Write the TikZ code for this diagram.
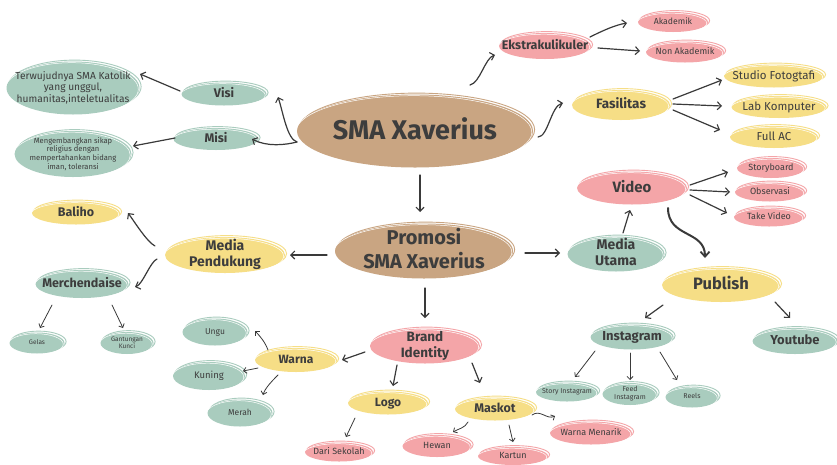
\documentclass[tikz,border=0pt]{standalone}
\usepackage{fontspec}
\setmainfont{Fira Sans}
\usetikzlibrary{shapes.geometric,arrows.meta}
\definecolor{gr}{HTML}{A9CCBE}
\definecolor{pk}{HTML}{F4A5A8}
\definecolor{ye}{HTML}{F6DE86}
\definecolor{tn}{HTML}{C9A582}
\definecolor{txt}{HTML}{3D3D3D}
\definecolor{ln}{HTML}{3A3A3A}
\newcommand\bubtext[1]{\smash{\makebox[0pt]{\raisebox{-0.3em}{\begin{tabular}{@{}c@{}}#1\end{tabular}}}}}
\tikzset{
  bub/.style={ellipse, inner sep=0pt, text=txt, fill=#1,
    postaction={draw=#1, line width=0.9pt, transform canvas={shift={(1.6pt,1.4pt)}}},
    postaction={draw=white, line width=0.5pt, transform canvas={shift={(-1.2pt,-1.2pt)}}}},
  sz/.style 2 args={minimum width=#1pt, minimum height=#2pt},
  f/.style={font=\fontsize{#1}{\fpeval{#1*1.14}}\selectfont},
  fb/.style={font=\bfseries\fontsize{#1}{\fpeval{#1*1.16}}\selectfont},
  arr/.style={draw=ln, line width=1.2pt, line cap=round, -{Straight Barb[length=4pt,width=8pt,line width=1.1pt]}},
  sarr/.style={draw=ln, line width=0.8pt, line cap=round, -{Straight Barb[length=3pt,width=6pt,line width=0.8pt]}},
  tarr/.style={draw=ln, line width=2pt, line cap=round, -{Straight Barb[length=5pt,width=9pt,line width=1.8pt]}},
}
\begin{document}
\begin{tikzpicture}[x=1pt,y=-1pt]
\fill[white] (0,0) rectangle (837,464);
\useasboundingbox (0,0) rectangle (837,464);

% central
\node[bub=tn, sz={236}{73}, fb=27] (sma) at (415,131) {\bubtext{SMA Xaverius}};
\node[bub=tn, sz={178}{55}, fb=20] (promo) at (424,251) {\bubtext{Promosi\\SMA Xaverius}};

% visi misi
\node[bub=gr, sz={85}{23}, fb=12.5] (visi) at (224,94) {\bubtext{Visi}};
\node[bub=gr, sz={85}{22}, fb=12.5] (misi) at (216,139) {\bubtext{Misi}};
\node[bub=gr, sz={133}{53}, f=10.2] (terw) at (73,88) {\bubtext{Terwujudnya SMA Katolik\\yang unggul,\\humanitas,inteletualitas}};
\node[bub=gr, sz={117}{46}, f=7.6] (meng) at (73,154) {\bubtext{Mengembangkan sikap\\religius dengan\\mempertahankan bidang\\iman, toleransi}};

% ekstra
\node[bub=pk, sz={92}{26}, fb=12.5] (ekstra) at (545,46) {\bubtext{Ekstrakulikuler}};
\node[bub=pk, sz={70}{20}, f=8.7] (akad) at (673,22) {\bubtext{Akademik}};
\node[bub=pk, sz={78}{21}, f=9] (nonak) at (685,52) {\bubtext{Non Akademik}};

% fasilitas
\node[bub=ye, sz={98}{30}, fb=13.5] (fas) at (621,105) {\bubtext{Fasilitas}};
\node[bub=ye, sz={100}{23}, f=11.5] (studio) at (774,76) {\bubtext{Studio Fotogtafi}};
\node[bub=ye, sz={95}{22}, f=11.5] (lab) at (779,107) {\bubtext{Lab Komputer}};
\node[bub=ye, sz={88}{22}, f=11.5] (ac) at (774,137) {\bubtext{Full AC}};

% video
\node[bub=pk, sz={110}{33}, fb=15] (video) at (632,188) {\bubtext{Video}};
\node[bub=pk, sz={68}{20}, f=9] (storyb) at (771,168) {\bubtext{Storyboard}};
\node[bub=pk, sz={70}{19}, f=9] (obs) at (770,192) {\bubtext{Observasi}};
\node[bub=pk, sz={70}{19}, f=9] (take) at (769,217) {\bubtext{Take Video}};
\node[bub=gr, sz={97}{35}, fb=14] (mu) at (616,254) {\bubtext{Media\\Utama}};
\node[bub=ye, sz={118}{34}, fb=16.5] (pub) at (721,285) {\bubtext{Publish}};
\node[bub=gr, sz={83}{25}, fb=13] (insta) at (632,337) {\bubtext{Instagram}};
\node[bub=gr, sz={85}{26}, fb=13] (yt) at (795,341) {\bubtext{Youtube}};
\node[bub=gr, sz={62}{19}, f=7] (storyig) at (567,392) {\bubtext{Story Instagram}};
\node[bub=gr, sz={55}{22}, f=7] (feed) at (630,394) {\bubtext{Feed\\Instagram}};
\node[bub=gr, sz={53}{21}, f=7] (reels) at (692,397) {\bubtext{Reels}};

% media pendukung
\node[bub=ye, sz={120}{36}, fb=14] (mp) at (225,255) {\bubtext{Media\\Pendukung}};
\node[bub=ye, sz={88}{23}, fb=12.5] (baliho) at (76,213) {\bubtext{Baliho}};
\node[bub=gr, sz={93}{28}, fb=12.5] (merch) at (82,284) {\bubtext{Merchendaise}};
\node[bub=gr, sz={55}{21}, f=6.5] (gelas) at (37,343) {\bubtext{Gelas}};
\node[bub=gr, sz={53}{22}, f=6.5] (gant) at (127,343) {\bubtext{Gantungan\\Kunci}};

% brand identity
\node[bub=pk, sz={110}{35}, fb=13.5] (brand) at (425,346) {\bubtext{Brand\\Identity}};
\node[bub=ye, sz={82}{24}, fb=12] (warna) at (296,360) {\bubtext{Warna}};
\node[bub=gr, sz={65}{27}, f=8.5] (ungu) at (215,332) {\bubtext{Ungu}};
\node[bub=gr, sz={72}{28}, f=9.5] (kuning) at (209,376) {\bubtext{Kuning}};
\node[bub=gr, sz={65}{27}, f=8.5] (merah) at (240,413) {\bubtext{Merah}};
\node[bub=ye, sz={80}{23}, fb=12] (logo) at (388,403) {\bubtext{Logo}};
\node[bub=ye, sz={80}{23}, fb=12.5] (maskot) at (495,409) {\bubtext{Maskot}};
\node[bub=pk, sz={68}{19}, f=9] (dari) at (339,452) {\bubtext{Dari Sekolah}};
\node[bub=pk, sz={69}{22}, f=9] (hewan) at (437,446) {\bubtext{Hewan}};
\node[bub=pk, sz={70}{18}, f=9] (kartun) at (513,456) {\bubtext{Kartun}};
\node[bub=pk, sz={82}{23}, f=9] (wm) at (591,433) {\bubtext{Warna Menarik}};

% connectors
\draw[arr] ([shift={(-118,11)}]sma.center) .. controls +(-10,-3) and +(5,15) .. ([shift={(54,3)}]visi.center);
\draw[arr] ([shift={(-118,11)}]sma.center) .. controls +(-12,3) and +(15,8) .. ([shift={(36,0)}]misi.center);
\draw[arr] ([shift={(-44,-3)}]visi.center) -- ([shift={(67,-14)}]terw.center);
\draw[arr] ([shift={(-41,-1)}]misi.center) -- ([shift={(60,-8)}]meng.center);
\draw[arr] ([shift={(55,-46)}]sma.center) .. controls +(10,-2) and +(-10,3) .. ([shift={(-50,9)}]ekstra.center);
\draw[arr] ([shift={(123,6)}]sma.center) .. controls +(10,0) and +(-12,3) .. ([shift={(-58,-2)}]fas.center);
\draw[arr] ([shift={(45,-9)}]ekstra.center) .. controls +(12,-6) and +(-12,2) .. ([shift={(-46,1)}]akad.center);
\draw[arr] ([shift={(53,2)}]ekstra.center) -- ([shift={(-45,-1)}]nonak.center);
\draw[arr] ([shift={(52,-6)}]fas.center) -- ([shift={(-52,4)}]studio.center);
\draw[arr] ([shift={(52,-1)}]fas.center) -- ([shift={(-57,-1)}]lab.center);
\draw[arr] ([shift={(52,5)}]fas.center) -- ([shift={(-54,-7)}]ac.center);
\draw[arr] ([shift={(5,44)}]sma.center) -- ([shift={(-4,-39)}]promo.center);
\draw[arr] ([shift={(-97,4)}]promo.center) -- ([shift={(65,0)}]mp.center);
\draw[arr] ([shift={(101,2)}]promo.center) -- ([shift={(-56,-1)}]mu.center);
\draw[arr] ([shift={(1,37)}]promo.center) -- ([shift={(0,-28)}]brand.center);
\draw[arr] ([shift={(7,-21)}]mu.center) -- ([shift={(-2,22)}]video.center);
\draw[arr] ([shift={(58,-3)}]video.center) -- ([shift={(-43,4)}]storyb.center);
\draw[arr] ([shift={(58,2)}]video.center) -- ([shift={(-40,0)}]obs.center);
\draw[arr] ([shift={(58,7)}]video.center) -- ([shift={(-42,-4)}]take.center);
\draw[tarr] ([shift={(36,20)}]video.center) .. controls +(0,30) and +(0,-28) .. ([shift={(-16,-27)}]pub.center);
\draw[arr] ([shift={(-58,20)}]pub.center) -- ([shift={(13,-19)}]insta.center);
\draw[arr] ([shift={(54,17)}]pub.center) -- ([shift={(-5,-23)}]yt.center);
\draw[sarr] ([shift={(-37,14)}]insta.center) -- ([shift={(8,-15)}]storyig.center);
\draw[sarr] ([shift={(-2,16)}]insta.center) -- ([shift={(0,-14)}]feed.center);
\draw[sarr] ([shift={(28,15)}]insta.center) -- ([shift={(-15,-17)}]reels.center);
\draw[arr] ([shift={(-70,-9)}]mp.center) .. controls +(-8,-4) and +(6,8) .. ([shift={(52,0)}]baliho.center);
\draw[arr] ([shift={(-68,4)}]mp.center) .. controls +(-7,3) and +(8,-3) .. ([shift={(53,3)}]merch.center);
\draw[sarr] ([shift={(-30,21)}]merch.center) -- ([shift={(3,-15)}]gelas.center);
\draw[sarr] ([shift={(30,21)}]merch.center) -- ([shift={(-4,-15)}]gant.center);
\draw[arr] ([shift={(-60,6)}]brand.center) -- ([shift={(46,0)}]warna.center);
\draw[sarr] ([shift={(-28,-10)}]warna.center) .. controls +(-3,-8) and +(5,5) .. ([shift={(40,-1)}]ungu.center);
\draw[sarr] ([shift={(-38,8)}]warna.center) -- ([shift={(34,-5)}]kuning.center);
\draw[sarr] ([shift={(-18,15)}]warna.center) .. controls +(-5,5) and +(2,-7) .. ([shift={(23,-18)}]merah.center);
\draw[arr] ([shift={(-28,19)}]brand.center) -- ([shift={(5,-17)}]logo.center);
\draw[arr] ([shift={(47,17)}]brand.center) -- ([shift={(-15,-26)}]maskot.center);
\draw[sarr] ([shift={(-33,15)}]logo.center) -- ([shift={(7,-15)}]dari.center);
\draw[sarr] ([shift={(-27,13)}]maskot.center) .. controls +(-3,6) and +(5,-3) .. ([shift={(16,-14)}]hewan.center);
\draw[sarr] ([shift={(14,16)}]maskot.center) -- ([shift={(0,-14)}]kartun.center);
\draw[sarr] ([shift={(37,6)}]maskot.center) .. controls +(8,-6) and +(-8,4) .. ([shift={(-36,-17)}]wm.center);
\end{tikzpicture}
\end{document}
